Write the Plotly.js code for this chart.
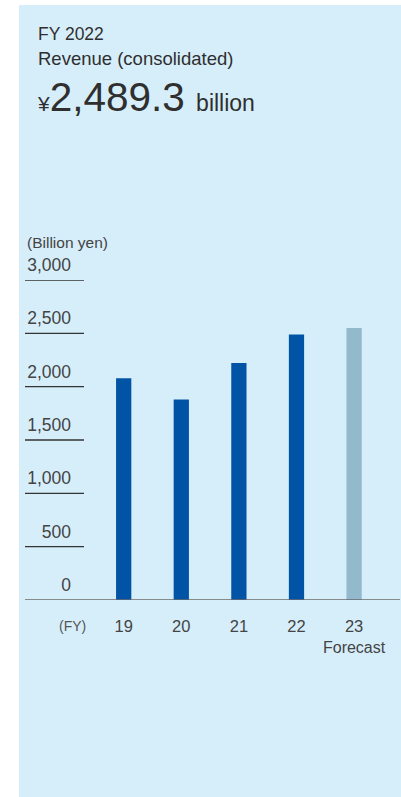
<!DOCTYPE html>
<html>
<head>
<meta charset="utf-8">
<script src="https://cdn.plot.ly/plotly-3.0.1.min.js"></script>
<style>html,body{margin:0;padding:0;background:#fff;}#chart{width:401px;height:797px;}</style>
</head>
<body>
<div id="chart"></div>
<script>
// ---- data ----
const fiscalYears = ['19', '20', '21', '22', '23'];
const revenue = [2080, 1880, 2222, 2489.3, 2550];   // billion yen
const isForecast = [false, false, false, false, true];
const yTicks = [0, 500, 1000, 1500, 2000, 2500, 3000];
const headlineYear = 'FY 2022';
const headlineLabel = 'Revenue (consolidated)';
const headlineValue = '2,489.3';
const unitLabel = '(Billion yen)';
const fyLabel = '(FY)';
const forecastLabel = 'Forecast';

// ---- layout geometry (pixels) ----
const W = 401, H = 797;
const L = 76, R = 400, T = 280, B = 600;
const px = x => (x - L) / (R - L);
const py = y => (B - y) / (B - T);

const FONT = 'Liberation Sans, Arial, Helvetica, sans-serif';
const textDark = '#2f2f2f';
const textMid = '#444444';

const barColors = isForecast.map(f => f ? '#93b9cd' : '#0053a5');
const tickText = fiscalYears.map((y, i) => isForecast[i]
  ? y + '<br><span style="font-size:16px">' + forecastLabel + '</span>'
  : y);

const trace = {
  type: 'bar',
  x: fiscalYears,
  y: revenue,
  width: 0.265,
  marker: { color: barColors, line: { width: 0 } },
  hoverinfo: 'skip'
};

const shapes = [
  // light blue panel
  { type: 'rect', xref: 'paper', yref: 'paper', x0: px(19), x1: px(401), y0: py(797), y1: py(5),
    fillcolor: '#d6eefa', line: { width: 0 }, layer: 'below' }
];
yTicks.filter(v => v > 0).forEach(v => {
  shapes.push({ type: 'line', xref: 'paper', yref: 'y', x0: px(25), x1: px(84), y0: v, y1: v,
    line: { color: '#333333', width: 1.3 }, layer: 'above' });
});
shapes.push({ type: 'line', xref: 'paper', yref: 'y', x0: px(25), x1: px(400), y0: 0, y1: 0,
  line: { color: '#6a6a6a', width: 1.6 }, layer: 'above' });

const annotations = [
  { xref: 'paper', yref: 'paper', x: px(36), y: py(33.7), xanchor: 'left', yanchor: 'middle',
    text: headlineYear, showarrow: false, font: { family: FONT, size: 17.5, color: textDark } },
  { xref: 'paper', yref: 'paper', x: px(36), y: py(58.3), xanchor: 'left', yanchor: 'middle',
    text: headlineLabel, showarrow: false, font: { family: FONT, size: 18.5, color: textDark } },
  { xref: 'paper', yref: 'paper', x: px(35), y: py(97), xanchor: 'left', yanchor: 'middle',
    text: '<span style="font-size:21px">¥</span><span style="font-size:40.5px">' + headlineValue +
          '</span> <span style="font-size:23px">billion</span>',
    showarrow: false, font: { family: FONT, size: 40.5, color: textDark } },
  { xref: 'paper', yref: 'paper', x: px(25), y: py(242.2), xanchor: 'left', yanchor: 'middle',
    text: unitLabel, showarrow: false, font: { family: FONT, size: 15.5, color: textMid } },
  { xref: 'paper', yref: 'paper', x: px(72.5), y: py(626), xanchor: 'center', yanchor: 'middle',
    text: fyLabel, showarrow: false, font: { family: FONT, size: 14, color: '#555555' } }
];

const layout = {
  width: W, height: H,
  margin: { l: L, r: W - R, t: T, b: H - B, pad: 0 },
  paper_bgcolor: '#ffffff',
  plot_bgcolor: 'rgba(0,0,0,0)',
  showlegend: false,
  xaxis: {
    type: 'category',
    range: [-0.828, 4.797],
    tickvals: fiscalYears,
    ticktext: tickText,
    showgrid: false, zeroline: false, showline: false, ticks: '',
    ticklabelstandoff: 14,
    tickfont: { family: FONT, size: 16.5, color: textMid },
    fixedrange: true
  },
  yaxis: {
    range: [0, 3000],
    tickvals: yTicks,
    tickformat: ',d',
    showgrid: false, zeroline: false, showline: false, ticks: '',
    ticklabelshift: -15,
    ticklabelstandoff: 4,
    tickfont: { family: FONT, size: 17.5, color: textMid },
    fixedrange: true
  },
  shapes: shapes,
  annotations: annotations
};

Plotly.newPlot('chart', [trace], layout, { displayModeBar: false, staticPlot: true });
</script>
</body>
</html>
